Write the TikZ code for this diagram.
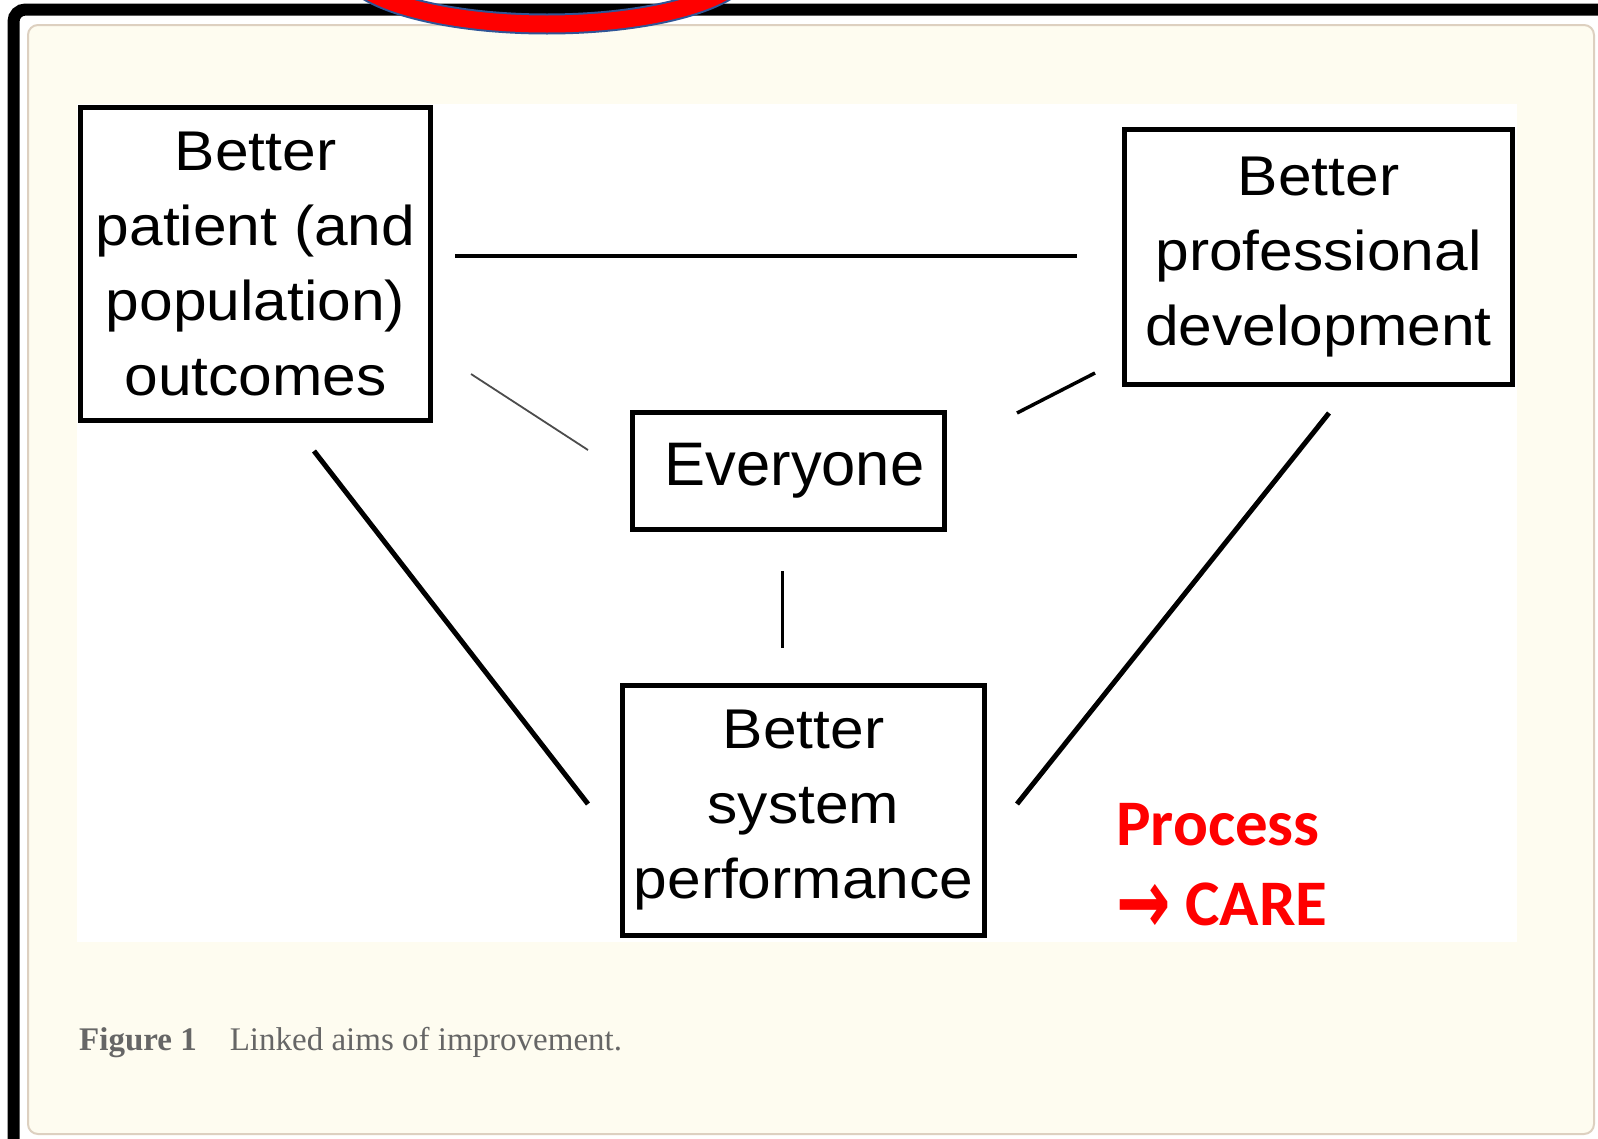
\documentclass[tikz,border=0pt]{standalone}
\usepackage{fontspec}
\setmainfont{Liberation Sans}
\newfontfamily\aimfont[FakeStretch=1.08]{Liberation Sans}
\newfontfamily\captionfont{Liberation Serif}
\newfontfamily\notefont{Carlito}
\newfontfamily\arrowfont{DejaVu Sans}
\usepackage{tikz}
\usetikzlibrary{shapes, positioning, calc}
\definecolor{panelcream}{HTML}{FEFCF0}
\definecolor{panelrule}{HTML}{DDD0C0}
\definecolor{captiongray}{HTML}{666666}
\definecolor{ringblue}{HTML}{2F5597}

\begin{document}
\begin{tikzpicture}[x=1pt, y=-1pt,
  aim/.style={rectangle, draw, line width=5pt, fill=white, align=center, inner sep=0pt, font=\aimfont\fontsize{56}{75}\selectfont},
  note/.style={inner sep=0pt, anchor=base west, text=red, font=\notefont\bfseries\fontsize{65}{80}\selectfont}]

\useasboundingbox (0,0) rectangle (1598,1138);

% Frame

\fill[white] (0,0) rectangle (1598,1138);
\draw[black, line width=12pt, rounded corners=12pt] (13.5,1160) -- (13.5,9.5) -- (1620,9.5);
\draw[panelrule, fill=panelcream, line width=2pt, rounded corners=10pt] (28,25) rectangle (1594,1134);
\fill[white] (77,104) rectangle (1517,942);

\draw[ringblue, line width=21pt] (547,-36) ellipse [x radius=200, y radius=60];
\draw[red, line width=17pt] (547,-36) ellipse [x radius=200, y radius=60];

% Aims

\node[aim, minimum width=350pt, minimum height=313pt] (patient) at (255.5,264)
{Better\\patient (and\\population)\\outcomes};

\node[aim, minimum width=388pt, minimum height=255pt, right=689pt of patient.east, anchor=west, yshift=7pt] (professional)
{Better\\professional\\development};

\node[aim, minimum width=312pt, minimum height=117pt, below right=207pt and 197pt of patient.east, anchor=west, font=\fontsize{61.5}{72}\selectfont] (everyone)
{\hspace*{12pt}Everyone};

\node[aim, minimum width=362pt, minimum height=250pt, below=151pt of everyone.south, anchor=north, xshift=15pt] (system)
{Better\\system\\performance};

% Links

\draw[line width=4.5pt] ($(patient.east) + (22,-8)$) -- ($(professional.west) + (-45,-1)$);

\draw[line width=1.8pt, black!70] ($(patient.east) + (38,110)$) -- ($(everyone.west) + (-42,-21)$);

\draw[line width=3.5pt] ($(everyone.east) + (70,-58)$) -- ($(professional.south west) + (-27,-14)$);

\draw[line width=3pt] ($(everyone.south) + (-6.5,39)$) -- ($(system.north) + (-21.5,-35)$);

\draw[line width=5pt] ($(patient.south) + (58.5,28)$) -- ($(system.west) + (-32,-6.5)$);

\draw[line width=5pt] ($(professional.south) + (10.5,26)$) -- ($(system.east) + (30,-6.5)$);

% Notes

\node[note] (process) at ($(system.east) + (129,34.5)$) {Process};
\node[note, below=80pt of process.base west, anchor=base west] (care)
{\raisebox{-8pt}{\arrowfont\bfseries\scalebox{1}[1.4]{→}}\ CARE};

\node[inner sep=0pt, anchor=base west, text=captiongray, font=\captionfont\fontsize{33}{40}\selectfont] (caption) at (79,1050)
{\textbf{Figure 1}\hspace{33pt}Linked aims of improvement.};

\end{tikzpicture}
\end{document}
